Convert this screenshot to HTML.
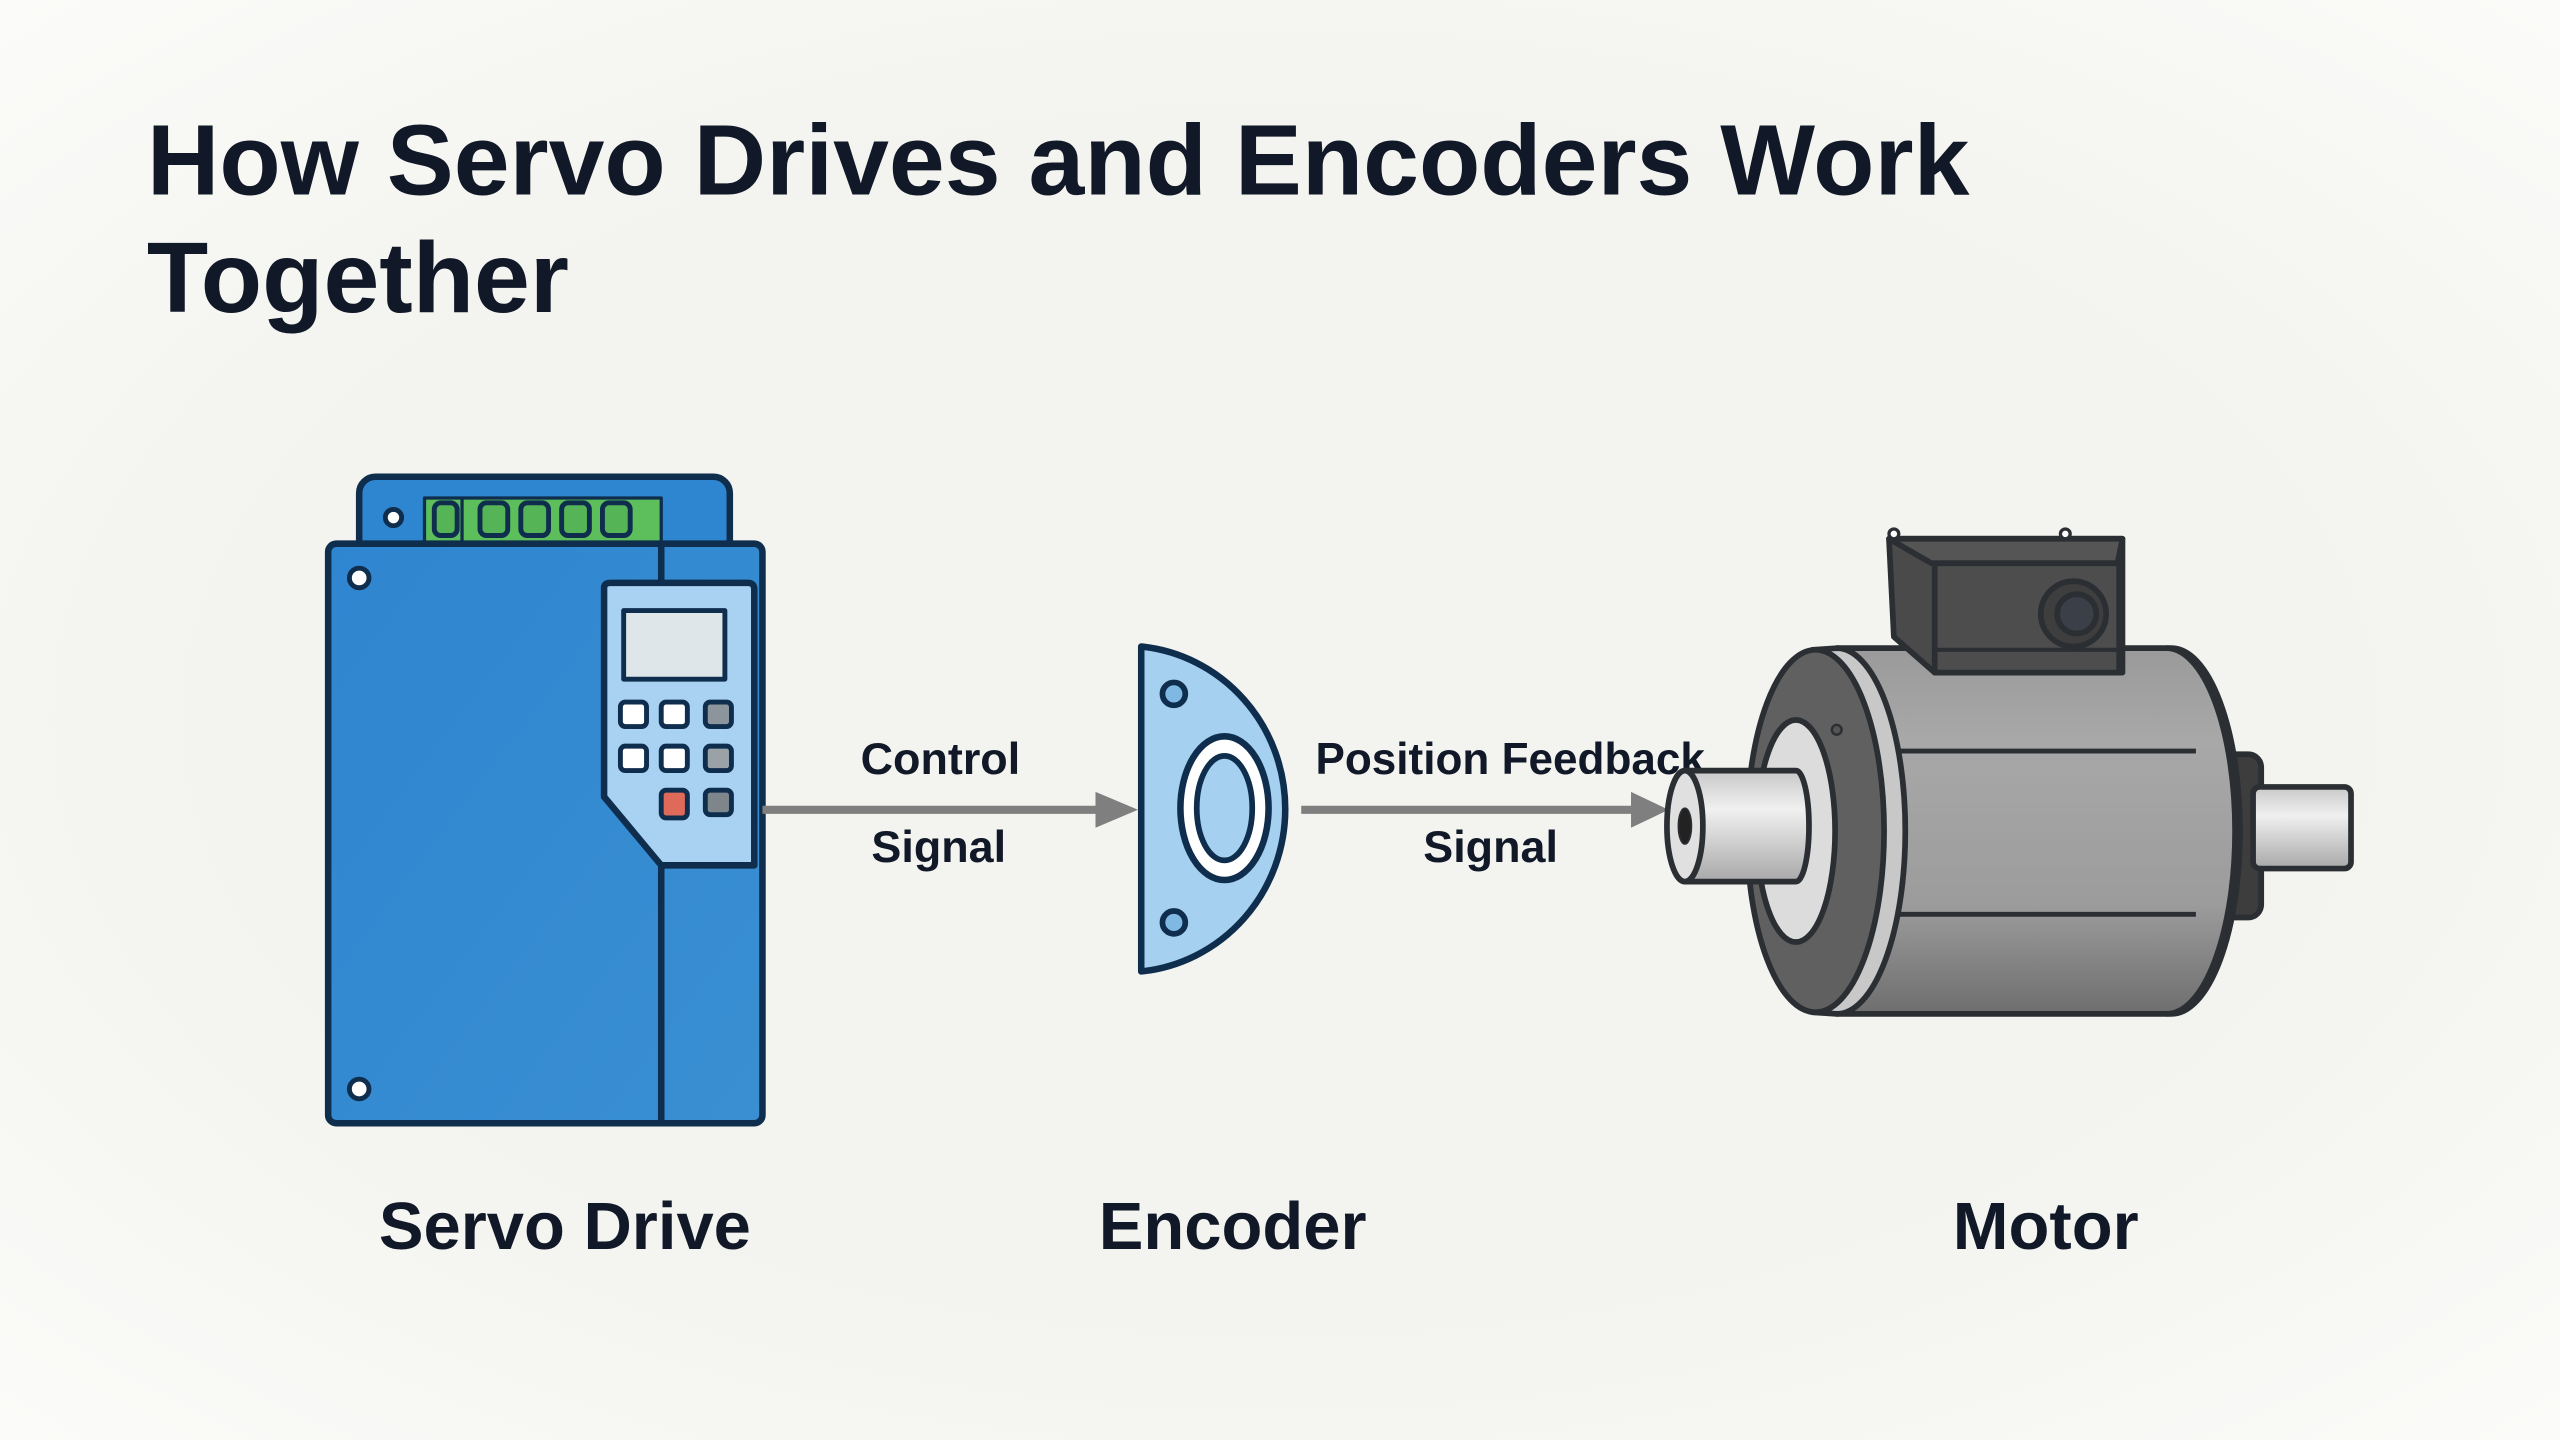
<!DOCTYPE html>
<html><head><meta charset="utf-8"><style>
html,body{margin:0;padding:0;background:#f4f4f0;}
svg{display:block}
text{font-family:"Liberation Sans",Arial,sans-serif;fill:#111827;font-weight:bold}
</style></head><body>
<svg width="2560" height="1440" viewBox="0 0 1568 882" xmlns="http://www.w3.org/2000/svg">
<defs>
<radialGradient id="bg" cx="50%" cy="50%" r="70%"><stop offset="0.6" stop-color="#f3f3ef"/><stop offset="1" stop-color="#fbfbf9"/></radialGradient>
<linearGradient id="drv" x1="0" y1="0" x2="1" y2="1"><stop offset="0" stop-color="#2f86d0"/><stop offset="1" stop-color="#3a8fd2"/></linearGradient>
<linearGradient id="body" x1="0" y1="0" x2="0" y2="1"><stop offset="0" stop-color="#9a9a9a"/><stop offset="0.25" stop-color="#a8a8a8"/><stop offset="0.7" stop-color="#9c9c9c"/><stop offset="1" stop-color="#6e6e6e"/></linearGradient>
<linearGradient id="shaft" x1="0" y1="0" x2="0" y2="1"><stop offset="0" stop-color="#c8c8c8"/><stop offset="0.35" stop-color="#f0f0f0"/><stop offset="1" stop-color="#a8a8a8"/></linearGradient>
</defs>
<rect width="1568" height="882" fill="url(#bg)"/>
<text x="90" y="119" font-size="61.5">How Servo Drives and Encoders Work</text>
<text x="90" y="191" font-size="61.5">Together</text>

<!-- Servo drive -->
<g stroke="#0f2d4d" stroke-width="4" stroke-linejoin="round">
<rect x="220" y="292" width="227" height="60" rx="10" fill="#2f86d0"/>
<rect x="260" y="305" width="145" height="28" fill="#5cbf5c" stroke-width="2"/>
<line x1="283" y1="305" x2="283" y2="333" stroke-width="2"/>
<g fill="#55b455" stroke-width="3">
<rect x="266" y="308" width="14" height="20" rx="4"/><rect x="294" y="308" width="17" height="20" rx="4"/><rect x="319" y="308" width="17" height="20" rx="4"/><rect x="344" y="308" width="17" height="20" rx="4"/><rect x="369" y="308" width="17" height="20" rx="4"/>
</g>
<circle cx="241" cy="317" r="5" fill="#fff" stroke-width="3"/>
<rect x="201" y="333" width="266" height="355" rx="5" fill="url(#drv)"/>
<line x1="405" y1="333" x2="405" y2="688"/>
<path d="M370 360 Q370 357 374 357 L458 357 Q462 357 462 361 L462 530 L405 530 L370 488 Z" fill="#a9d2f2"/>
<rect x="382" y="374" width="62" height="42" fill="#dfe6ea" stroke-width="3"/>
<g stroke-width="3"><rect x="380" y="430" width="16" height="15" rx="3" fill="#fff"/><rect x="405" y="430" width="16" height="15" rx="3" fill="#fff"/><rect x="432" y="430" width="16" height="15" rx="3" fill="#8d959c"/>
<rect x="380" y="457" width="16" height="15" rx="3" fill="#fff"/><rect x="405" y="457" width="16" height="15" rx="3" fill="#fff"/><rect x="432" y="457" width="16" height="15" rx="3" fill="#9aa2a8"/>
<rect x="405" y="484" width="16" height="17" rx="3" fill="#e06a5a"/><rect x="432" y="484" width="16" height="15" rx="3" fill="#7e868c"/></g>
<circle cx="220" cy="354" r="6" fill="#fff" stroke-width="3"/>
<circle cx="220" cy="667" r="6" fill="#fff" stroke-width="3"/>
</g>

<!-- arrows -->
<line x1="467" y1="496" x2="675" y2="496" stroke="#7f7f7f" stroke-width="5"/>
<polygon points="671,485 697,496 671,507" fill="#7f7f7f"/>
<line x1="797" y1="496" x2="1002" y2="496" stroke="#7f7f7f" stroke-width="5"/>
<polygon points="999,485 1022,496 999,507" fill="#7f7f7f"/>
<text x="576" y="474" font-size="27.5" text-anchor="middle">Control</text>
<text x="575" y="528" font-size="27.5" text-anchor="middle">Signal</text>
<text x="925" y="474" font-size="27" text-anchor="middle">Position Feedback</text>
<text x="913" y="528" font-size="27.5" text-anchor="middle">Signal</text>

<!-- encoder -->
<g stroke="#0f2d4d" stroke-width="4">
<path d="M699 396 A98 100 0 0 1 699 595 Z" fill="#a5d0f0" stroke-linejoin="round"/>
<circle cx="719" cy="425" r="7" fill="#7fb8e3" stroke-width="3.5"/>
<circle cx="719" cy="565" r="7" fill="#7fb8e3" stroke-width="3.5"/>
<ellipse cx="750" cy="495" rx="27" ry="44" fill="#fff"/>
<ellipse cx="750" cy="495" rx="17" ry="32" fill="#a5d0f0" stroke-width="3.5"/>
</g>

<!-- motor -->
<g stroke="#2b2f33" stroke-width="3.5" stroke-linejoin="round">
<rect x="1355" y="462" width="30" height="100" rx="8" fill="#3d3d3d"/>
<rect x="1380" y="482" width="60" height="50" rx="4" fill="url(#shaft)"/>
<path d="M1125 397 L1330 397 A42 112 0 0 1 1330 621 L1125 621 Z" fill="url(#body)"/>
<path d="M1327 397 A42 112 0 0 1 1327 621" fill="none"/>
<line x1="1163" y1="460" x2="1345" y2="460" stroke-width="3"/>
<line x1="1163" y1="560" x2="1345" y2="560" stroke-width="3"/>
<path d="M1110 398 L1125 397 A42 112 0 0 1 1125 621 L1110 620 Z" fill="#c8c8c8"/>
<ellipse cx="1112" cy="509" rx="42" ry="111" fill="#606060"/>
<ellipse cx="1100" cy="509" rx="24" ry="68" fill="#dcdcdc"/>
<circle cx="1125" cy="447" r="3" fill="#555" stroke-width="1.5"/>
<path d="M1032 472 L1100 472 A8 34 0 0 1 1100 540 L1032 540 Z" fill="url(#shaft)"/>
<ellipse cx="1032" cy="506" rx="11" ry="34" fill="#e0e0e0"/>
<ellipse cx="1032" cy="506" rx="4" ry="11" fill="#222" stroke-width="1"/>
<path d="M1157 330 L1300 330 L1300 412 L1185 412 L1160 390 Z" fill="#4a4a4a"/>
<path d="M1157 330 L1300 330 L1297 345 L1183 345 Z" fill="#555"/>
<rect x="1185" y="345" width="113" height="67" fill="#4d4d4d"/>
<line x1="1185" y1="398" x2="1298" y2="398" stroke-width="2.5"/>
<circle cx="1160" cy="327" r="3" fill="#fff" stroke-width="2"/>
<circle cx="1265" cy="327" r="3" fill="#fff" stroke-width="2"/>
<circle cx="1270" cy="376" r="20" fill="#3e3e3e"/>
<circle cx="1272" cy="376" r="12" fill="#3a3f48"/>
</g>

<text x="346" y="765" font-size="41" text-anchor="middle">Servo Drive</text>
<text x="755" y="765" font-size="41" text-anchor="middle">Encoder</text>
<text x="1253" y="765" font-size="41" text-anchor="middle">Motor</text>
</svg>
</body></html>
